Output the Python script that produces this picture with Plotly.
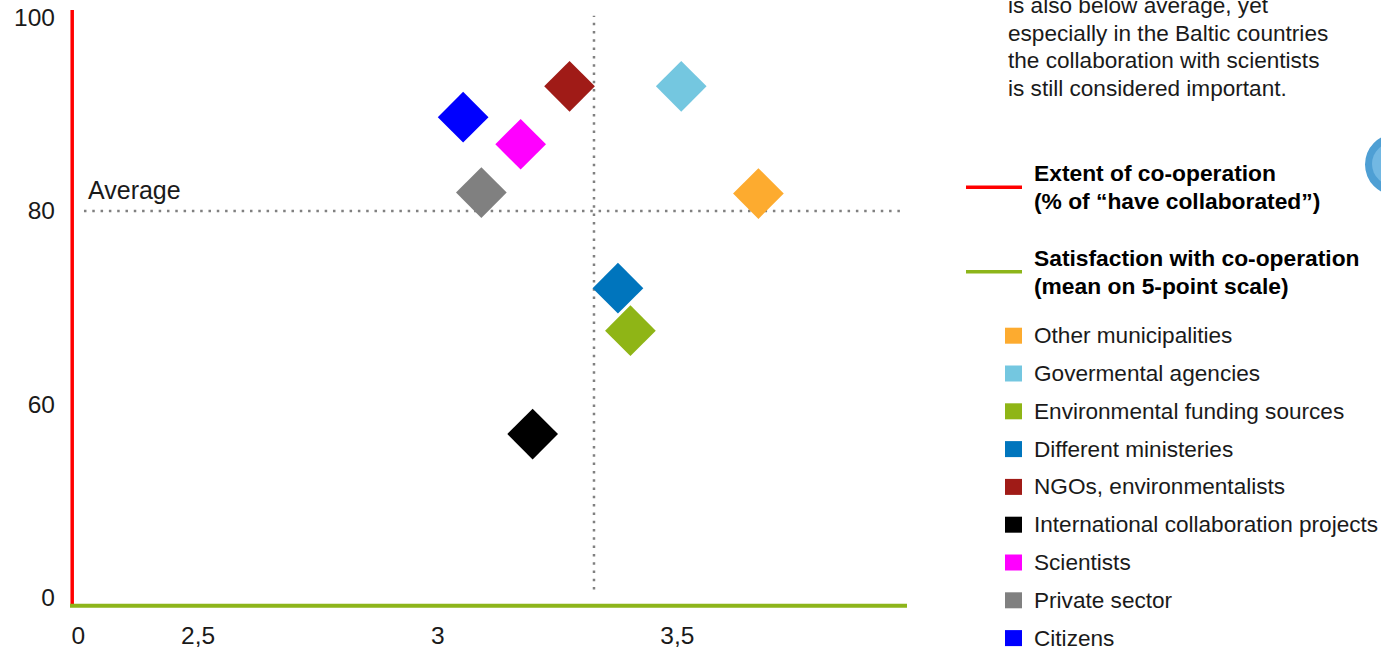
import plotly.graph_objects as go

# ---------------- data ----------------
categories = [
    "Other municipalities",
    "Govermental agencies",
    "Environmental funding sources",
    "Different ministeries",
    "NGOs, environmentalists",
    "International collaboration projects",
    "Scientists",
    "Private sector",
    "Citizens",
]
satisfaction = [3.669, 3.508, 3.402, 3.376, 3.275, 3.198, 3.173, 3.091, 3.053]
extent = [81.8, 92.9, 67.6, 72.0, 92.9, 56.9, 86.9, 81.9, 89.7]
colors = ["#FDAB2F", "#74C7E0", "#8FB516", "#0075BD", "#A01B17",
          "#000000", "#FF00FF", "#808080", "#0000FF"]

avg_satisfaction = 3.326
avg_extent = 80

x_tickvals = [2.25, 2.5, 3, 3.5]
x_ticktext = ["0", "2,5", "3", "3,5"]
y_tickvals = [40, 60, 80, 100]
y_ticktext = ["0", "60", "80", "100"]

paragraph = [
    "is also below average, yet",
    "especially in the Baltic countries",
    "the collaboration with scientists",
    "is still considered important.",
]
axis_legend = [
    ("Extent of co-operation", "(% of \u201chave collaborated\u201d)", "#FF0000"),
    ("Satisfaction with co-operation", "(mean on 5-point scale)", "#8DB51A"),
]

# ---------------- layout helpers ----------------
W, H = 1381, 651
L, R, T, B = 72, 907, 10, 606


def px(x):
    return (x - L) / (R - L)


def py(y):
    return (B - y) / (B - T)


FONT = "Liberation Sans, Arial, sans-serif"
TXT = "#1a1a1a"

fig = go.Figure()

fig.add_trace(go.Scatter(
    x=satisfaction, y=extent, mode="markers",
    marker=dict(symbol="diamond", size=39, color=colors, line=dict(width=0)),
    text=categories, hoverinfo="text", showlegend=False,
))

shapes = []
annotations = []

# average lines
shapes.append(dict(type="line", xref="x", yref="y", x0=2.262, x1=3.97,
                   y0=avg_extent, y1=avg_extent, layer="below",
                   line=dict(color="#808080", width=2.5, dash="2.5px,5.8px")))
shapes.append(dict(type="line", xref="x", yref="y", x0=avg_satisfaction,
                   x1=avg_satisfaction, y0=40.8, y1=100.2, layer="below",
                   line=dict(color="#808080", width=2.5, dash="2.5px,5.8px")))

# axis lines
shapes.append(dict(type="line", xref="paper", yref="paper", x0=px(72.2), x1=px(72.2),
                   y0=py(10), y1=py(606), line=dict(color="#FF0000", width=3.5)))
shapes.append(dict(type="line", xref="paper", yref="paper", x0=px(70), x1=px(907),
                   y0=py(605.7), y1=py(605.7), line=dict(color="#8DB51A", width=4)))

annotations.append(dict(xref="paper", yref="paper", x=px(86), y=py(190),
                        xanchor="left", yanchor="middle", showarrow=False,
                        text="Average", font=dict(family=FONT, size=25, color=TXT)))

# paragraph on the right
for i, line in enumerate(paragraph):
    annotations.append(dict(xref="paper", yref="paper", x=px(1006), y=py(5.5 + 27.6 * i),
                            xanchor="left", yanchor="middle", showarrow=False,
                            text=line, font=dict(family=FONT, size=22.6, color=TXT)))

# axis legend
for j, (l1, l2, col) in enumerate(axis_legend):
    yc = 187.3 + 84.4 * j
    shapes.append(dict(type="line", xref="paper", yref="paper", x0=px(966), x1=px(1022),
                       y0=py(yc), y1=py(yc), line=dict(color=col, width=3.5)))
    for k, t in enumerate([l1, l2]):
        annotations.append(dict(xref="paper", yref="paper", x=px(1032),
                                y=py(yc - 13.9 + 27.8 * k),
                                xanchor="left", yanchor="middle", showarrow=False,
                                text="<b>%s</b>" % t,
                                font=dict(family=FONT, size=22.8, color="#000000")))

# category legend
for i, (cat, col) in enumerate(zip(categories, colors)):
    yc = 335.7 + 37.8 * i
    shapes.append(dict(type="rect", xref="paper", yref="paper", x0=px(1005), x1=px(1022),
                       y0=py(yc + 8), y1=py(yc - 8), fillcolor=col, line=dict(width=0)))
    annotations.append(dict(xref="paper", yref="paper", x=px(1032), y=py(yc),
                            xanchor="left", yanchor="middle", showarrow=False,
                            text=cat, font=dict(family=FONT, size=22.6, color=TXT)))

# partially visible globe image at right edge
shapes.append(dict(type="circle", xref="paper", yref="paper", x0=px(1365), x1=px(1425),
                   y0=py(195), y1=py(134), fillcolor="#4E9FD4", line=dict(width=0)))
shapes.append(dict(type="circle", xref="paper", yref="paper", x0=px(1372), x1=px(1418),
                   y0=py(186), y1=py(142), fillcolor="#72B8E3", line=dict(width=0)))

fig.update_layout(
    width=W, height=H,
    margin=dict(l=L, r=W - R, t=T, b=H - B, pad=0, autoexpand=False),
    paper_bgcolor="white", plot_bgcolor="white",
    shapes=shapes, annotations=annotations,
    showlegend=False,
    xaxis=dict(range=[2.237, 3.979], tickvals=x_tickvals, ticktext=x_ticktext,
               showgrid=False, zeroline=False, showline=False, ticks="",
               automargin=False,
               ticklabelstandoff=12, fixedrange=True,
               tickfont=dict(family=FONT, size=24.5, color=TXT)),
    yaxis=dict(range=[39.1, 100.8], tickvals=y_tickvals, ticktext=y_ticktext,
               showgrid=False, zeroline=False, showline=False, ticks="",
               automargin=False,
               ticklabelstandoff=16, fixedrange=True,
               tickfont=dict(family=FONT, size=24.5, color=TXT)),
)

fig.write_html("out.html", config={"displayModeBar": False})
